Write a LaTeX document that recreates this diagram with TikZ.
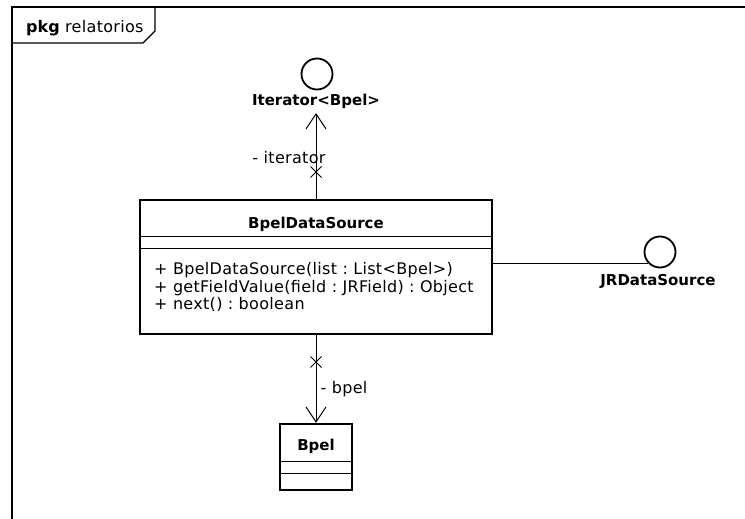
\documentclass[tikz,border=0pt]{standalone}
\usepackage{fontspec}
\setmainfont{DejaVu Sans}[LetterSpace=2, BoldFeatures={LetterSpace=0}]
\usetikzlibrary{arrows.meta,shapes.misc}
\tikzset{
  classbox/.style={draw, line width=2.4pt, minimum width=#1, inner sep=0pt},
  sep/.style={line width=0.9pt},
  conn/.style={line width=1pt},
  iface/.style={draw, circle, line width=1.8pt, minimum size=31pt, inner sep=0pt},
  txt/.style={font=\fontsize{16}{18}\selectfont, inner sep=0pt},
  btxt/.style={font=\fontsize{15}{17}\selectfont\bfseries, inner sep=0pt},
  xmark/.style={draw, cross out, line width=1pt, minimum size=10pt, inner sep=0pt},
  openarrow/.style={-{Straight Barb[length=15pt,width=20pt,line width=1pt]}},
  framebox/.style={line width=1.4pt}
}
\begin{document}
\frenchspacing
\begin{tikzpicture}[x=1pt,y=-1pt]
\useasboundingbox (0,0) rectangle (745,519);
% frame
\draw[framebox] (12,519) -- (12,7) -- (745,7);
\draw[framebox] (12,43) -- (143,43) -- (155,31) -- (155,7);
\node[txt, anchor=base west] (pkg) at (26,33) {\textbf{pkg} relatorios};
% main class
\node[classbox=352pt, minimum height=134pt] (bds) at (316,267) {};
\node[btxt, anchor=base] (bdsname) at (316,228) {BpelDataSource};
\draw[sep] (bds.west |- 0,236) -- (bds.east |- 0,236);
\draw[sep] (bds.west |- 0,248) -- (bds.east |- 0,248);
\node[txt, anchor=base west] (m1) at (154,274.5) {+ BpelDataSource(list : List<Bpel>)};
\node[txt, anchor=base west] (m2) at (154,292) {+ getFieldValue(field : JRField) : Object};
\node[txt, anchor=base west] (m3) at (154,309.5) {+ next() : boolean};
% Bpel class
\node[classbox=72pt, minimum height=66pt] (bpel) at (316,457) {};
\node[btxt, anchor=base] (bpelname) at (316,450) {Bpel};
\draw[sep] (bpel.west |- 0,461) -- (bpel.east |- 0,461);
\draw[sep] (bpel.west |- 0,473) -- (bpel.east |- 0,473);
% Iterator interface
\node[iface] (it) at (317,74) {};
\node[btxt, anchor=base] (itlabel) at (316,105.5) {Iterator<Bpel>};
\draw[conn, openarrow] (bds.north) -- ([yshift=-7.5pt]itlabel.base);
\node[xmark] (x1) at (316,172) {};
\node[txt, anchor=base] (itrole) at (289,163) {- iterator};
% association to Bpel
\draw[conn, openarrow] (bds.south) -- (bpel.north);
\node[xmark] (x2) at (316,362) {};
\node[txt, anchor=base] (bpelrole) at (344,393) {- bpel};
% JRDataSource interface
\node[iface] (jr) at (660,252) {};
\node[btxt, anchor=base] (jrlabel) at (658,285.5) {JRDataSource};
\draw[conn] (bds.east |- jr.-135) -- (jr.-135);
\end{tikzpicture}
\end{document}
